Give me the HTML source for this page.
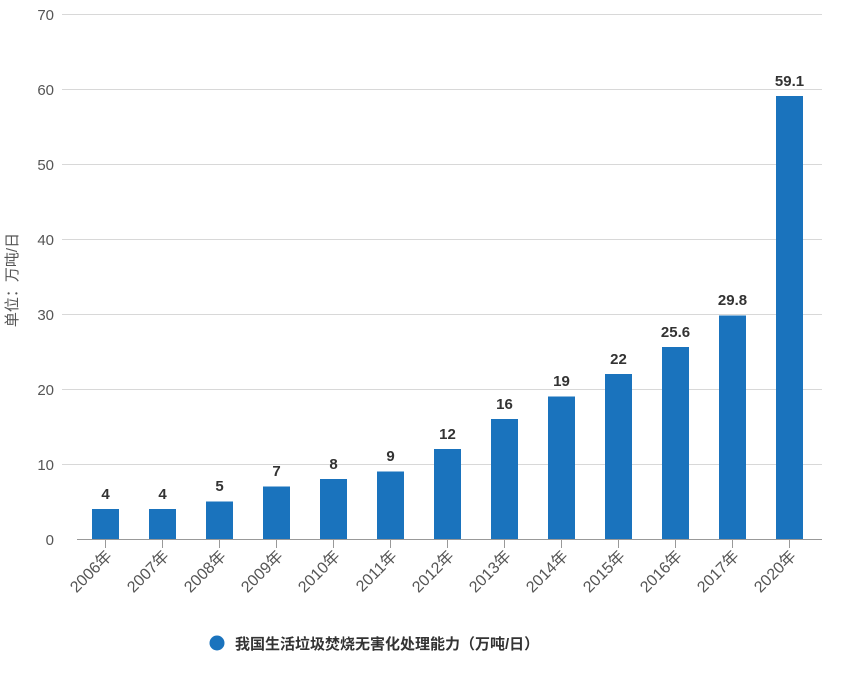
<!DOCTYPE html>
<html><head><meta charset="utf-8"><style>
body{margin:0;background:#fff;}
svg text{font-family:"Liberation Sans","Noto Sans CJK SC",sans-serif;}
</style></head><body>
<svg width="862" height="672" xmlns="http://www.w3.org/2000/svg">
<rect width="862" height="672" fill="#fff"/>
<g stroke="#d8d8d8" stroke-width="1">
<line x1="62" x2="822" y1="14.5" y2="14.5"/>
<line x1="62" x2="822" y1="89.5" y2="89.5"/>
<line x1="62" x2="822" y1="164.5" y2="164.5"/>
<line x1="62" x2="822" y1="239.5" y2="239.5"/>
<line x1="62" x2="822" y1="314.5" y2="314.5"/>
<line x1="62" x2="822" y1="389.5" y2="389.5"/>
<line x1="62" x2="822" y1="464.5" y2="464.5"/>
</g>
<line x1="77" x2="822" y1="539.5" y2="539.5" stroke="#999" stroke-width="1"/>
<g font-size="15" fill="#555" text-anchor="end">
<text x="54" y="20">70</text><text x="54" y="95">60</text><text x="54" y="170">50</text>
<text x="54" y="245">40</text><text x="54" y="320">30</text><text x="54" y="395">20</text>
<text x="54" y="470">10</text><text x="54" y="545">0</text>
</g>
<text transform="translate(17,280) rotate(-90)" font-size="15" fill="#555" text-anchor="middle">单位：万吨/日</text>
<g fill="#1a73bd">
<rect x="92" y="509" width="27" height="30"/>
<rect x="149" y="509" width="27" height="30"/>
<rect x="206" y="501.5" width="27" height="37.5"/>
<rect x="263" y="486.5" width="27" height="52.5"/>
<rect x="320" y="479" width="27" height="60"/>
<rect x="377" y="471.5" width="27" height="67.5"/>
<rect x="434" y="449" width="27" height="90"/>
<rect x="491" y="419" width="27" height="120"/>
<rect x="548" y="396.5" width="27" height="142.5"/>
<rect x="605" y="374" width="27" height="165"/>
<rect x="662" y="347" width="27" height="192"/>
<rect x="719" y="315.5" width="27" height="223.5"/>
<rect x="776" y="96" width="27" height="443"/>
</g>
<g font-size="15" font-weight="bold" fill="#333" text-anchor="middle">
<text x="105.5" y="499">4</text><text x="162.5" y="499">4</text><text x="219.5" y="491">5</text>
<text x="276.5" y="476">7</text><text x="333.5" y="469">8</text><text x="390.5" y="461">9</text>
<text x="447.5" y="439">12</text><text x="504.5" y="409">16</text><text x="561.5" y="386">19</text>
<text x="618.5" y="364">22</text><text x="675.5" y="337">25.6</text><text x="732.5" y="305">29.8</text>
<text x="789.5" y="86">59.1</text>
</g>
<g stroke="#999">
<line x1="105.5" x2="105.5" y1="540" y2="548"/><line x1="162.5" x2="162.5" y1="540" y2="548"/>
<line x1="219.5" x2="219.5" y1="540" y2="548"/><line x1="276.5" x2="276.5" y1="540" y2="548"/>
<line x1="333.5" x2="333.5" y1="540" y2="548"/><line x1="390.5" x2="390.5" y1="540" y2="548"/>
<line x1="447.5" x2="447.5" y1="540" y2="548"/><line x1="504.5" x2="504.5" y1="540" y2="548"/>
<line x1="561.5" x2="561.5" y1="540" y2="548"/><line x1="618.5" x2="618.5" y1="540" y2="548"/>
<line x1="675.5" x2="675.5" y1="540" y2="548"/><line x1="732.5" x2="732.5" y1="540" y2="548"/>
<line x1="789.5" x2="789.5" y1="540" y2="548"/>
</g>
<g font-size="16" fill="#555" text-anchor="end">
<text transform="translate(113,557) rotate(-45)">2006年</text>
<text transform="translate(170,557) rotate(-45)">2007年</text>
<text transform="translate(227,557) rotate(-45)">2008年</text>
<text transform="translate(284,557) rotate(-45)">2009年</text>
<text transform="translate(341,557) rotate(-45)">2010年</text>
<text transform="translate(398,557) rotate(-45)">2011年</text>
<text transform="translate(455,557) rotate(-45)">2012年</text>
<text transform="translate(512,557) rotate(-45)">2013年</text>
<text transform="translate(569,557) rotate(-45)">2014年</text>
<text transform="translate(626,557) rotate(-45)">2015年</text>
<text transform="translate(683,557) rotate(-45)">2016年</text>
<text transform="translate(740,557) rotate(-45)">2017年</text>
<text transform="translate(797,557) rotate(-45)">2020年</text>
</g>
<circle cx="217" cy="643" r="7.5" fill="#1a73bd"/>
<text x="235" y="649" font-size="15" font-weight="bold" fill="#333">我国生活垃圾焚烧无害化处理能力（万吨/日）</text>
</svg>
</body></html>
